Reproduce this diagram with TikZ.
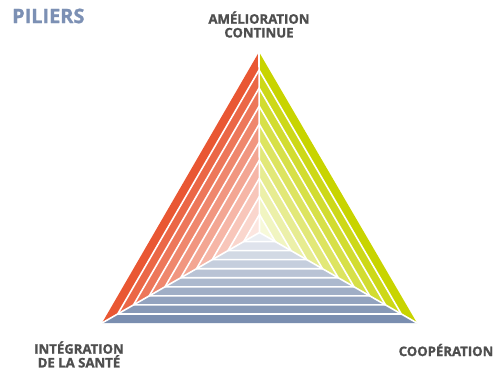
\documentclass[tikz,border=0pt]{standalone}
\usepackage{fontspec}
\setmainfont{Open Sans}[BoldFeatures={FakeBold=1.2}]
\usetikzlibrary{calc}
\definecolor{orangeP}{RGB}{233,87,51}
\definecolor{greenP}{RGB}{200,212,0}
\definecolor{blueP}{RGB}{122,142,176}
\definecolor{titleP}{RGB}{124,144,180}
\definecolor{labelP}{RGB}{78,78,78}
\tikzstyle{pillar}=[font=\bfseries\fontsize{13.2}{13.8}\selectfont, text=labelP, align=center, inner sep=0pt]
\tikzstyle{gap}=[white, line width=1.6pt, line join=round]

\begin{document}
\begin{tikzpicture}[x=1bp,y=-1bp]
\useasboundingbox (0,0) rectangle (504,371);
\coordinate (G) at (259.5,232.5);
\coordinate (A) at (259,52);
\coordinate (B) at (102,323);
\coordinate (C) at (417,323);

\foreach \k in {1,...,10}{
  \pgfmathsetmacro{\p}{15+85*(\k-1)/9}
  \pgfmathsetmacro{\q}{(\k-1)/10}
  \pgfmathsetmacro{\r}{\k/10}
  \fill[orangeP!\p!white] ($(G)!\q!(A)$) -- ($(G)!\q!(B)$) -- ($(G)!\r!(B)$) -- ($(G)!\r!(A)$) -- cycle;
  \fill[greenP!\p!white] ($(G)!\q!(A)$) -- ($(G)!\q!(C)$) -- ($(G)!\r!(C)$) -- ($(G)!\r!(A)$) -- cycle;
  \fill[blueP!\p!white] ($(G)!\q!(B)$) -- ($(G)!\q!(C)$) -- ($(G)!\r!(C)$) -- ($(G)!\r!(B)$) -- cycle;
}
\foreach \k in {1,...,9}{
  \draw[gap] ($(G)!\k/10!(A)$) -- ($(G)!\k/10!(B)$) -- ($(G)!\k/10!(C)$) -- cycle;
}
\draw[gap] (G) -- (A);
\draw[gap] (G) -- (B);
\draw[gap] (G) -- (C);

\node[anchor=west, inner sep=0pt, text=titleP, font=\bfseries\fontsize{20}{21}\selectfont] (piliers) at (12,16) {PILIERS};
\node[pillar] (amelioration) at (259,24.5) {AMÉLIORATION\\CONTINUE};
\node[pillar] (integration) at (79,354.5) {INTÉGRATION\\DE LA SANTÉ};
\node[pillar] (cooperation) at (446,350) {COOPÉRATION};
\end{tikzpicture}
\end{document}
